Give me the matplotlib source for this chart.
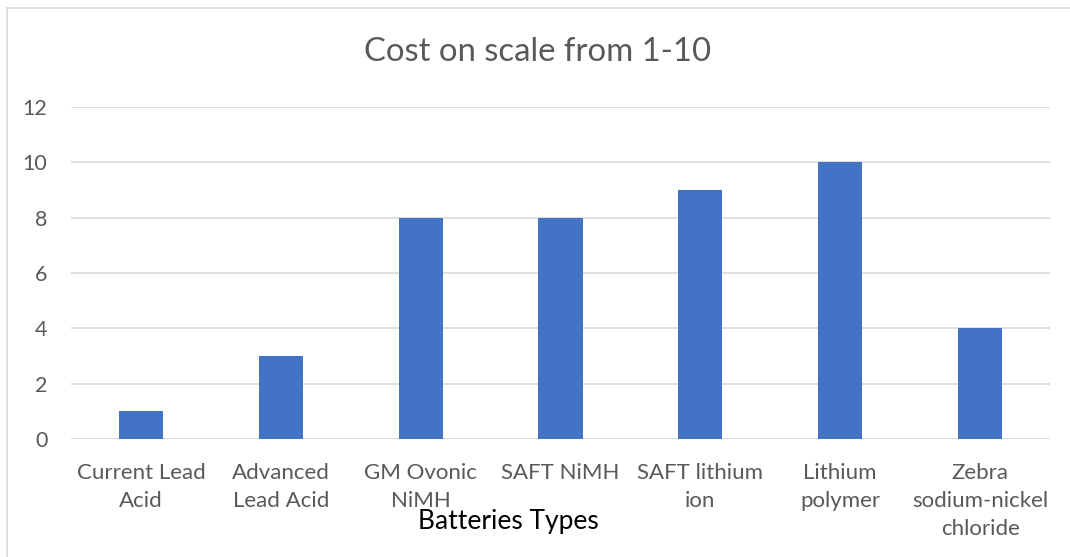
import matplotlib.pyplot as plt
from matplotlib.patches import Rectangle

# donnees
categories = ["Current Lead\nAcid", "Advanced\nLead Acid", "GM Ovonic\nNiMH", "SAFT NiMH",
              "SAFT lithium\nion", "Lithium\npolymer", "Zebra\nsodium-nickel\nchloride"]
cost = [1, 3, 8, 8, 9, 10, 4]
yticks = [0, 2, 4, 6, 8, 10, 12]

plt.rcParams['font.family'] = ['Lato', 'DejaVu Sans']

fig = plt.figure(figsize=(10.7, 5.57), dpi=100)
ax = fig.add_axes([71/1070, 1-439/557, (1050-71)/1070, (439-107)/557])

x = range(len(categories))
ax.bar(x, cost, width=0.315, color="#4472c4", zorder=3)

ax.set_xlim(-0.5, len(categories)-0.5)
ax.set_ylim(0, 12)
ax.set_yticks(yticks)
ax.set_xticks(list(x))
ax.set_xticklabels(categories, linespacing=1.5)
ax.yaxis.grid(True, color="#d9d9d9", linewidth=1.2, zorder=0)
for s in ax.spines.values():
    s.set_visible(False)
ax.tick_params(axis='y', length=0, pad=17, labelsize=15.5, labelcolor="#595959")
ax.tick_params(axis='x', length=0, pad=17, labelsize=16, labelcolor="#595959")

# ligne de base
ax.axhline(0, color="#d9d9d9", linewidth=1.2, zorder=2)

fig.text(538/1070, 1-52/557, "Cost on scale from 1-10", ha='center', va='center',
         fontsize=23.7, color="#595959")
fig.text(508/1070, 1-522/557, "Batteries Types", ha='center', va='center',
         fontsize=19, color="black")

# cadre du graphique
fig.patches.append(Rectangle((7/1070, -0.1), 1.2, 1-8/557+0.1, transform=fig.transFigure,
                             fill=False, edgecolor="#d9d9d9", linewidth=1.2))

fig.savefig("out.png", dpi=100)
